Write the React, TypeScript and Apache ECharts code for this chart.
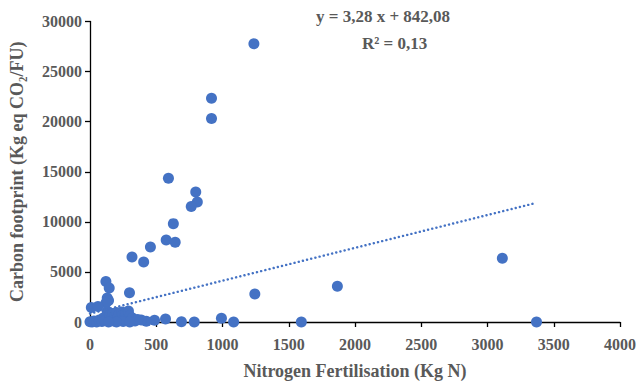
import React, { useEffect, useRef } from "react";
import * as echarts from "echarts";

const xTicks = [0, 4000, 500];
const yTicks = [0, 30000, 5000];

const nitrogen = [
  1237, 917, 917, 592, 798, 810, 764, 629, 575, 643, 456, 317, 405, 3112, 120, 145, 298, 1244, 1867,
  130, 140, 120, 10, 60, 1595, 3370, 992, 1084, 787, 690, 570, 487, 425, 387,
  0, 15, 30, 50, 70, 90, 100, 110, 130, 150, 160, 170, 180, 190, 200, 210, 220, 230, 240, 250,
  260, 270, 280, 290, 300, 310, 320, 340, 360, 250, 200, 140, 300,
];
const carbon = [
  27770, 22340, 20320, 14340, 12980, 11990, 11520, 9820, 8180, 7970, 7480, 6490, 5980, 6360, 4050, 3400, 2920, 2800, 3570,
  2400, 2150, 1900, 1450, 1550, 0, 0, 370, 0, 0, 20, 300, 180, 70, 190,
  30, 0, 100, 0, 200, 50, 400, 150, 1050, 700, 300, 850, 100, 600, 950, 400, 800, 200, 1000, 700,
  500, 900, 300, 1100, 600, 150, 400, 100, 250, 50, 0, 0, 0,
];

const slope = 3.28;
const intercept = 842.08;
const equationText = "y = 3,28 x + 842,08";
const r2Text = "R² = 0,13";
const xTitle = "Nitrogen Fertilisation (Kg N)";
const yTitle = "Carbon footprint (Kg eq CO₂/FU)";

export default function App() {
  const ref = useRef<HTMLDivElement>(null);
  useEffect(() => {
    if (!ref.current) return;
    const chart = echarts.init(ref.current, null, { renderer: "svg" });
    const pts = nitrogen.map((x, i) => [x, carbon[i]]);
    const xMin = Math.min(...nitrogen);
    const xMax = Math.max(...nitrogen);
    const trend = [
      [xMin, slope * xMin + intercept],
      [xMax, slope * xMax + intercept],
    ];
    const font = "'Liberation Serif', 'Times New Roman', serif";
    const grey = "#595959";
    const plain = (v: number) => String(v);
    chart.setOption({
      animation: false,
      grid: { left: 90, right: 16, top: 21.5, bottom: 55.7, containLabel: false },
      xAxis: {
        type: "value",
        min: xTicks[0],
        max: xTicks[1],
        interval: xTicks[2],
        name: xTitle,
        nameLocation: "middle",
        nameGap: 40,
        nameTextStyle: { fontFamily: font, fontWeight: "bold", fontSize: 18, color: grey },
        axisLine: { show: true, lineStyle: { color: "#000", width: 1.3 } },
        axisTick: { show: true, inside: false, length: 5, lineStyle: { color: "#000", width: 1.3 } },
        axisLabel: { fontFamily: font, fontWeight: "bold", fontSize: 16, color: grey, margin: 14, formatter: plain },
        splitLine: { show: false },
      },
      yAxis: {
        type: "value",
        min: yTicks[0],
        max: yTicks[1],
        interval: yTicks[2],
        name: yTitle,
        nameLocation: "middle",
        nameGap: 64,
        nameTextStyle: { fontFamily: font, fontWeight: "bold", fontSize: 18, color: grey },
        axisLine: { show: true, lineStyle: { color: "#000", width: 1.3 } },
        axisTick: { show: true, inside: false, length: 5, lineStyle: { color: "#000", width: 1.3 } },
        axisLabel: { fontFamily: font, fontWeight: "bold", fontSize: 16, color: grey, margin: 8, formatter: plain },
        splitLine: { show: false },
      },
      series: [
        {
          type: "line",
          data: trend,
          showSymbol: false,
          symbol: "none",
          lineStyle: { color: "#4472C4", width: 2.4, type: [0.1, 4.2], cap: "round" },
          z: 3,
        },
        {
          type: "scatter",
          data: pts,
          symbol: "circle",
          symbolSize: 11,
          itemStyle: { color: "#4472C4", opacity: 1 },
          z: 2,
        },
      ],
      graphic: [
        {
          type: "text",
          left: 396 - 80,
          top: 8,
          style: {
            text: equationText,
            fontFamily: font,
            fontWeight: "bold",
            fontSize: 17,
            fill: grey,
            width: 160,
            align: "center",
          },
        },
        {
          type: "text",
          left: 362,
          top: 35,
          style: {
            text: r2Text,
            fontFamily: font,
            fontWeight: "bold",
            fontSize: 17,
            fill: grey,
          },
        },
      ],
    });
    return () => chart.dispose();
  }, []);
  return <div ref={ref} style={{ width: 639, height: 385, position: "absolute", left: 0, top: 0, background: "#fff" }} />;
}
